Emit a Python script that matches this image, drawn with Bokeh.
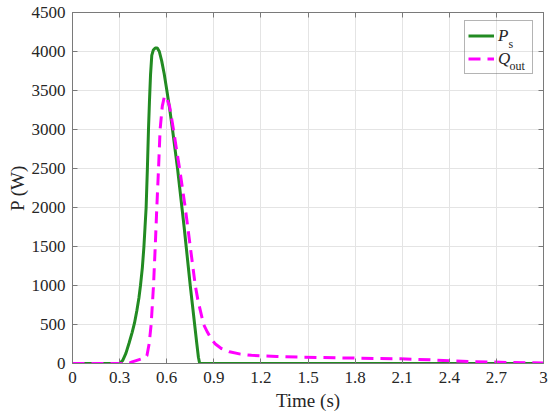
from bokeh.plotting import figure
from bokeh.models import (Range1d, LinearAxis, FixedTicker, Legend, LegendItem,
                          Label, CustomJSTickFormatter)
from bokeh.embed import file_html
from bokeh.resources import INLINE

# ---- data ----
ps_time = [0, 0.30, 0.32, 0.34, 0.36, 0.38, 0.395, 0.41, 0.423, 0.433, 0.445,
           0.455, 0.462, 0.469, 0.477, 0.484, 0.49, 0.497, 0.505, 0.515, 0.527,
           0.54, 0.553, 0.568, 0.584, 0.601, 0.62, 0.637, 0.653, 0.669, 0.683,
           0.697, 0.711, 0.724, 0.737, 0.75, 0.764, 0.778, 0.792, 0.802, 0.81, 3.0]
ps_power = [0, 0, 40, 130, 260, 400, 520, 680, 840, 1000, 1230,
            1500, 1750, 2000, 2500, 3000, 3350, 3700, 3950, 4020, 4045,
            4045, 4000, 3880, 3714, 3500, 3250, 3000, 2750, 2500, 2250,
            2000, 1750, 1500, 1250, 1000, 750, 500, 250, 80, 0, 0]

q_time = [0, 0.356, 0.38, 0.41, 0.44, 0.46, 0.474, 0.488, 0.501, 0.516, 0.527,
          0.537, 0.548, 0.558, 0.572, 0.586, 0.597, 0.618, 0.643, 0.662, 0.682,
          0.70, 0.718, 0.734, 0.75, 0.766, 0.782, 0.80, 0.82, 0.835, 0.86,
          0.885, 0.91, 0.95, 1.0, 1.07, 1.14, 1.21, 1.3, 1.45, 1.7, 2.09,
          2.28, 2.52, 2.79, 3.0]
q_power = [0, 0, 20, 40, 60, 75, 100, 250, 500, 1000, 1500,
           2000, 2500, 3000, 3300, 3430, 3414, 3300, 3000, 2750, 2500,
           2250, 2000, 1750, 1500, 1250, 1000, 800, 630, 500, 400,
           310, 250, 190, 150, 120, 105, 98, 90, 81, 72, 60,
           47, 26, 13, 8]

x_ticks = [0, 0.3, 0.6, 0.9, 1.2, 1.5, 1.8, 2.1, 2.4, 2.7, 3.0]
x_tick_labels = ["0", "0.3", "0.6", "0.9", "1.2", "1.5", "1.8", "2.1", "2.4", "2.7", "3"]
y_ticks = [0, 500, 1000, 1500, 2000, 2500, 3000, 3500, 4000, 4500]

x_label = "Time (s)"
y_label = "P (W)"
legend_main = ["P", "Q"]
legend_sub = ["s", "out"]

# ---- styling ----
FONT = "Liberation Serif"
AX = "#7a7a7a"
TXT = "#262626"
GREEN = "#228b22"
MAG = "#ff00ff"

p = figure(width=550, height=417, output_backend="svg", toolbar_location=None,
           x_range=Range1d(0, 3), y_range=Range1d(0, 4500),
           min_border_left=72, min_border_right=7, min_border_top=12,
           min_border_bottom=54, background_fill_color="white",
           border_fill_color="white")
p.outline_line_color = AX

for ax in (p.xaxis[0], p.yaxis[0]):
    ax.axis_line_color = AX
    ax.major_tick_line_color = AX
    ax.major_tick_in = 5
    ax.major_tick_out = 0
    ax.minor_tick_line_color = None
    ax.major_label_text_font = FONT
    ax.major_label_text_font_size = "17px"
    ax.major_label_text_color = TXT
    ax.axis_label_text_font = FONT
    ax.axis_label_text_font_size = "19px"
    ax.axis_label_text_font_style = "normal"
    ax.axis_label_text_color = TXT

p.xaxis.ticker = FixedTicker(ticks=x_ticks)
p.xaxis.major_label_overrides = {t: l for t, l in zip(x_ticks, x_tick_labels)}
p.yaxis.ticker = FixedTicker(ticks=y_ticks)
p.xaxis.major_label_standoff = 8
p.yaxis.major_label_standoff = 7
p.xaxis.axis_label = x_label
p.xaxis.axis_label_standoff = 4
p.yaxis.axis_label = y_label
p.yaxis.axis_label_standoff = 1

# mirrored axes (top / right), ticks only
blank = CustomJSTickFormatter(code="return ''")
for loc, tk in (("above", x_ticks), ("right", y_ticks)):
    a = LinearAxis(ticker=FixedTicker(ticks=tk), formatter=blank,
                   major_label_standoff=0, axis_line_color=AX,
                   major_tick_line_color=AX, major_tick_in=5, major_tick_out=0,
                   minor_tick_line_color=None)
    p.add_layout(a, loc)

p.grid.grid_line_color = "#e4e4e4"
p.grid.grid_line_width = 1
p.xgrid.ticker = FixedTicker(ticks=x_ticks)
p.ygrid.ticker = FixedTicker(ticks=y_ticks)

r_ps = p.line(ps_time, ps_power, line_color=GREEN, line_width=3)
r_q = p.line(q_time, q_power, line_color=MAG, line_width=3, line_dash="12 7")

legend = Legend(items=[LegendItem(label=legend_main[0], renderers=[r_ps]),
                       LegendItem(label=legend_main[1], renderers=[r_q])],
                location=(392, 289), orientation="vertical",
                glyph_width=26, glyph_height=23, label_height=23, label_width=31,
                label_standoff=4, spacing=0, padding=3, margin=0,
                label_text_font=FONT, label_text_font_style="italic",
                label_text_font_size="17px", label_text_color=TXT,
                border_line_color="#6a6a6a", border_line_width=1,
                background_fill_alpha=0)
p.add_layout(legend, "center")

# subscripts for legend labels (screen units: from frame bottom-left)
p.add_layout(Label(x=436, y=320, x_units="screen", y_units="screen", text=legend_sub[0],
                   text_font=FONT, text_font_size="12px", text_color=TXT,
                   text_baseline="alphabetic", level="overlay"))
p.add_layout(Label(x=437, y=298, x_units="screen", y_units="screen", text=legend_sub[1],
                   text_font=FONT, text_font_size="12px", text_color=TXT,
                   text_baseline="alphabetic", level="overlay"))

open("out.html", "w").write(file_html(p, INLINE))
